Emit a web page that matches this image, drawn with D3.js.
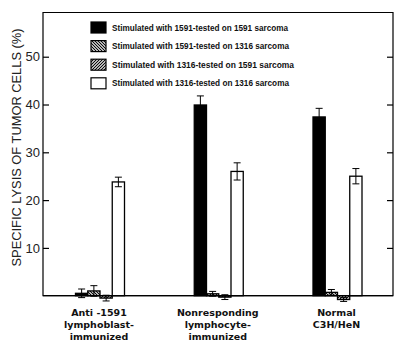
<!DOCTYPE html>
<html><head><meta charset="utf-8">
<script src="https://cdn.jsdelivr.net/npm/d3@7"></script>
<style>body{margin:0;background:#fff}svg{display:block}</style>
</head><body>
<svg id="c" width="400" height="347"></svg>
<script>
const categories = [["Anti -1591","lymphoblast-","immunized"],["Nonresponding","lymphocyte-","immunized"],["Normal","C3H/HeN"]];
const categoryKeys = ["anti","nonresp","normal"];
const seriesNames = ["Stimulated with 1591-tested on 1591 sarcoma","Stimulated with 1591-tested on 1316 sarcoma","Stimulated with 1316-tested on 1591 sarcoma","Stimulated with 1316-tested on 1316 sarcoma"];
const seriesKeys = ["s1","s2","s3","s4"];
const s1Values = [0.5, 39.9, 37.4];
const s1Errors = [0.9, 1.9, 1.8];
const s2Values = [1.0, 0.4, 0.7];
const s2Errors = [1.1, 0.5, 0.6];
const s3Values = [-0.5, -0.3, -0.8];
const s3Errors = [0.6, 0.5, 0.4];
const s4Values = [23.8, 26.0, 25.0];
const s4Errors = [1.0, 1.8, 1.6];
const yTicks = [10, 20, 30, 40, 50];
const yLabel = "SPECIFIC LYSIS  OF  TUMOR CELLS (%)";

const values = [s1Values, s2Values, s3Values, s4Values];
const errors = [s1Errors, s2Errors, s3Errors, s4Errors];

const svg = d3.select("#c");
const L = 43, R = 393, T = 12.5, B = 295.7;
const y = d3.scaleLinear().domain([0, 59.25]).range([B, T]);
const x0 = d3.scalePoint().domain(categoryKeys).range([100, 337.5]);
const x1 = d3.scaleBand().domain(seriesKeys).range([-24.5, 24.5]).padding(0);

const defs = svg.append("defs");
function hatch(id, dir) {
  const p = defs.append("pattern").attr("id", id).attr("patternUnits", "userSpaceOnUse")
    .attr("width", 3).attr("height", 3);
  p.append("rect").attr("width", 3).attr("height", 3).attr("fill", "#fff");
  if (dir > 0) {
    p.append("path").attr("d", "M-1,1 L1,-1 M0,3 L3,0 M2,4 L4,2").attr("stroke", "#000").attr("stroke-width", 1.1);
  } else {
    p.append("path").attr("d", "M-1,2 L1,4 M0,0 L3,3 M2,-1 L4,1").attr("stroke", "#000").attr("stroke-width", 1.1);
  }
}
hatch("back", -1);
hatch("fwd", 1);
const fills = ["#000", "url(#back)", "url(#fwd)", "#fff"];

// frame
svg.append("path").attr("d", `M${L},${B} L${L},${T} L${R},${T} L${R},${B} Z`)
  .attr("fill", "none").attr("stroke", "#000").attr("stroke-width", 1.2);

// left ticks (inward) and labels
const ga = svg.append("g").attr("transform", `translate(${L},0)`)
  .call(d3.axisRight(y).tickValues(yTicks).tickSize(6).tickFormat(""));
ga.select(".domain").remove();
ga.selectAll("line").attr("stroke-width", 1.2);
svg.append("g").selectAll("text").data(yTicks).join("text")
  .attr("x", L - 3).attr("y", d => y(d)).attr("dy", "0.36em")
  .attr("text-anchor", "end").attr("font-family", "Liberation Sans, Arial, sans-serif")
  .attr("font-size", 13).attr("fill", "#222").text(d => d);
// right ticks (inward)
const gr = svg.append("g").attr("transform", `translate(${R},0)`)
  .call(d3.axisLeft(y).tickValues(yTicks).tickSize(6).tickFormat(""));
gr.select(".domain").remove();
gr.selectAll("line").attr("stroke-width", 1.2);

// y label
svg.append("text").attr("transform", `translate(20.5,147.5) rotate(-90)`)
  .attr("text-anchor", "middle").attr("font-family", "Liberation Sans, Arial, sans-serif")
  .attr("font-size", 13.5).attr("fill", "#222")
  .attr("textLength", 238).attr("lengthAdjust", "spacingAndGlyphs").text(yLabel);

// bars
const bars = [];
categoryKeys.forEach((c, i) => seriesKeys.forEach((s, j) => bars.push({c, s, j, v: values[j][i], e: errors[j][i]})));
const gb = svg.append("g");
gb.selectAll("rect").data(bars).join("rect")
  .attr("x", d => x0(d.c) + x1(d.s)).attr("width", x1.bandwidth())
  .attr("y", d => Math.min(y(d.v), y(0))).attr("height", d => Math.abs(y(0) - y(d.v)))
  .attr("fill", d => fills[d.j]).attr("stroke", "#000").attr("stroke-width", 1.3);

// error bars
const ge = svg.append("g").attr("stroke", "#000").attr("stroke-width", 1);
bars.forEach(d => {
  const cx = x0(d.c) + x1(d.s) + x1.bandwidth() / 2;
  const y1 = y(d.v + d.e), y2 = y(d.v - d.e);
  ge.append("line").attr("x1", cx).attr("x2", cx).attr("y1", y1).attr("y2", y2);
  ge.append("line").attr("x1", cx - 3.5).attr("x2", cx + 3.5).attr("y1", y1).attr("y2", y1);
  ge.append("line").attr("x1", cx - 3.5).attr("x2", cx + 3.5).attr("y1", y2).attr("y2", y2);
});

// baseline
svg.append("line").attr("x1", L).attr("x2", R).attr("y1", y(0)).attr("y2", y(0))
  .attr("stroke", "#000").attr("stroke-width", 1.2);

// category labels
categories.forEach((lines, i) => {
  const t = svg.append("text").attr("text-anchor", "middle")
    .attr("font-family", "DejaVu Sans, sans-serif").attr("font-size", 9.5).attr("font-weight", "bold")
    .attr("fill", "#111");
  lines.forEach((ln, k) => t.append("tspan").attr("x", x0(categoryKeys[i]) - 1).attr("y", 316 + k * 12).text(ln));
});

// legend
const legendWidths = [176, 177, 182, 177];
const lg = svg.append("g");
seriesNames.forEach((n, j) => {
  const cy = 27.5 + j * 18.6;
  lg.append("rect").attr("x", 91).attr("y", cy - 5.5).attr("width", 15).attr("height", 11)
    .attr("fill", fills[j]).attr("stroke", "#000").attr("stroke-width", 1.2);
  lg.append("text").attr("x", 112).attr("y", cy).attr("dy", "0.35em")
    .attr("font-family", "Liberation Sans, Arial, sans-serif").attr("font-size", 8.6).attr("font-weight", "bold")
    .attr("fill", "#111").attr("textLength", legendWidths[j]).attr("lengthAdjust", "spacingAndGlyphs").text(n);
});
</script>
</body></html>
